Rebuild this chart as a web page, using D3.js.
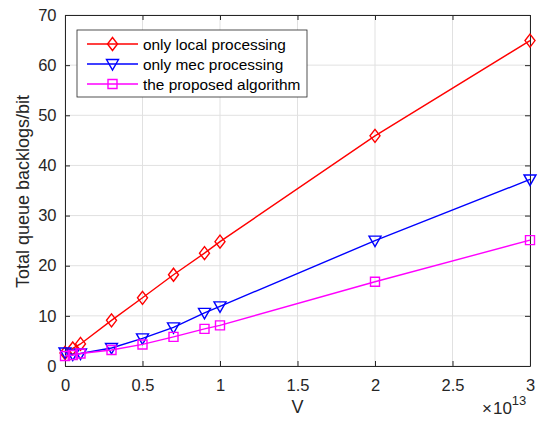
<!DOCTYPE html>
<html>
<head>
<meta charset="utf-8">
<script src="https://cdn.jsdelivr.net/npm/d3@7"></script>
<style>
  html, body { margin: 0; padding: 0; background: #fff; }
  svg { display: block; font-family: "Liberation Sans", Arial, Helvetica, sans-serif; }
</style>
</head>
<body>
<svg id="chart" width="539" height="423"></svg>
<script>
// ---- data ----
const V = [0, 0.05, 0.1, 0.3, 0.5, 0.7, 0.9, 1, 2, 3]; // ×10^13
const localProc = [2.6, 3.5, 4.4, 9.1, 13.6, 18.2, 22.5, 24.8, 45.9, 64.9];
const mecProc = [2.7, 2.3, 2.5, 3.6, 5.5, 7.7, 10.6, 11.9, 25.0, 37.2];
const proposed = [2.0, 2.2, 2.5, 3.2, 4.3, 5.8, 7.4, 8.1, 16.8, 25.1];
const seriesNames = ["only local processing", "only mec processing", "the proposed algorithm"];
const xTicks = [0, 0.5, 1, 1.5, 2, 2.5, 3];
const xTickLabels = ["0", "0.5", "1", "1.5", "2", "2.5", "3"];
const yTicks = [0, 10, 20, 30, 40, 50, 60, 70];
const yTickLabels = ["0", "10", "20", "30", "40", "50", "60", "70"];

const series = [
  { name: seriesNames[0], values: localProc, color: "#ff0000", marker: "diamond" },
  { name: seriesNames[1], values: mecProc, color: "#0000ff", marker: "triangle" },
  { name: seriesNames[2], values: proposed, color: "#ff00ff", marker: "square" }
];

const svg = d3.select("#chart");
const L = 65, R = 530, T = 15, B = 366;
const x = d3.scaleLinear().domain([0, 3]).range([L, R]);
const y = d3.scaleLinear().domain([0, 70]).range([B, T]);
const axisColor = "#262626";
const tickFont = "16.5px";

// grid
const g = svg.append("g");
g.selectAll(".gx").data(xTicks).enter().append("line")
  .attr("x1", d => x(d)).attr("x2", d => x(d)).attr("y1", T).attr("y2", B)
  .attr("stroke", "#e1e1e1").attr("stroke-width", 1);
g.selectAll(".gy").data(yTicks).enter().append("line")
  .attr("y1", d => y(d)).attr("y2", d => y(d)).attr("x1", L).attr("x2", R)
  .attr("stroke", "#e1e1e1").attr("stroke-width", 1);

// axes (ticks inward)
const xAxis = d3.axisBottom(x).tickValues(xTicks).tickFormat((d, i) => xTickLabels[i]).tickSizeInner(-5).tickSizeOuter(0).tickPadding(13.3);
const yAxis = d3.axisLeft(y).tickValues(yTicks).tickFormat((d, i) => yTickLabels[i]).tickSizeInner(-5).tickSizeOuter(0).tickPadding(8.5);
const xTop = d3.axisTop(x).tickValues(xTicks).tickFormat("").tickSizeInner(-5).tickSizeOuter(0);
const yRight = d3.axisRight(y).tickValues(yTicks).tickFormat("").tickSizeInner(-5).tickSizeOuter(0);

function styleAxis(sel) {
  sel.selectAll("path").attr("stroke", axisColor);
  sel.selectAll("line").attr("stroke", axisColor);
  sel.selectAll("text").attr("fill", axisColor).style("font-size", tickFont).style("font-family", "'Liberation Sans', Arial, sans-serif");
}
svg.append("g").attr("transform", `translate(0,${B})`).call(xAxis).call(styleAxis);
svg.append("g").attr("transform", `translate(${L},0)`).call(yAxis).call(styleAxis);
svg.append("g").attr("transform", `translate(0,${T})`).call(xTop).call(styleAxis);
svg.append("g").attr("transform", `translate(${R},0)`).call(yRight).call(styleAxis);

// markers
function markerPath(type) {
  if (type === "diamond") return "M0,-6.5L5,0L0,6.5L-5,0Z";
  if (type === "triangle") return "M-6,-4.5L6,-4.5L0,6Z";
  return "M-4.5,-4.5L4.5,-4.5L4.5,4.5L-4.5,4.5Z";
}

const line = d3.line().x((d, i) => x(V[i])).y(d => y(d));
series.forEach(s => {
  svg.append("path").datum(s.values).attr("d", line)
    .attr("fill", "none").attr("stroke", s.color).attr("stroke-width", 1.4);
  svg.selectAll(null).data(s.values).enter().append("path")
    .attr("d", markerPath(s.marker))
    .attr("transform", (d, i) => `translate(${x(V[i])},${y(d)})`)
    .attr("fill", "none").attr("stroke", s.color).attr("stroke-width", 1.4);
});

// labels
svg.append("text").attr("x", (L + R) / 2).attr("y", 413).attr("text-anchor", "middle")
  .attr("fill", axisColor).style("font-size", "18px").text("V");
svg.append("text").attr("transform", `translate(28.5,${(T + B) / 2 + 1}) rotate(-90)`).attr("text-anchor", "middle")
  .attr("fill", axisColor).style("font-size", "18px").text("Total queue backlogs/bit");
const ex = svg.append("text").attr("x", 482).attr("y", 413.5).attr("fill", axisColor).style("font-size", "17px");
ex.append("tspan").text("×");
ex.append("tspan").attr("dx", 1).text("10");
ex.append("tspan").attr("dy", -8.5).style("font-size", "13px").text("13");

// legend
const lg = svg.append("g");
lg.append("rect").attr("x", 77).attr("y", 30).attr("width", 230).attr("height", 67)
  .attr("fill", "#fff").attr("stroke", axisColor).attr("stroke-width", 0.8);
series.forEach((s, i) => {
  const ly = 44 + i * 20;
  lg.append("line").attr("x1", 87).attr("x2", 138).attr("y1", ly).attr("y2", ly)
    .attr("stroke", s.color).attr("stroke-width", 1.4);
  lg.append("path").attr("d", markerPath(s.marker)).attr("transform", `translate(112.5,${ly})`)
    .attr("fill", "none").attr("stroke", s.color).attr("stroke-width", 1.4);
  lg.append("text").attr("x", 143).attr("y", ly + 5.5).attr("fill", "#000").style("font-size", "15.4px").text(s.name);
});
</script>
</body>
</html>
